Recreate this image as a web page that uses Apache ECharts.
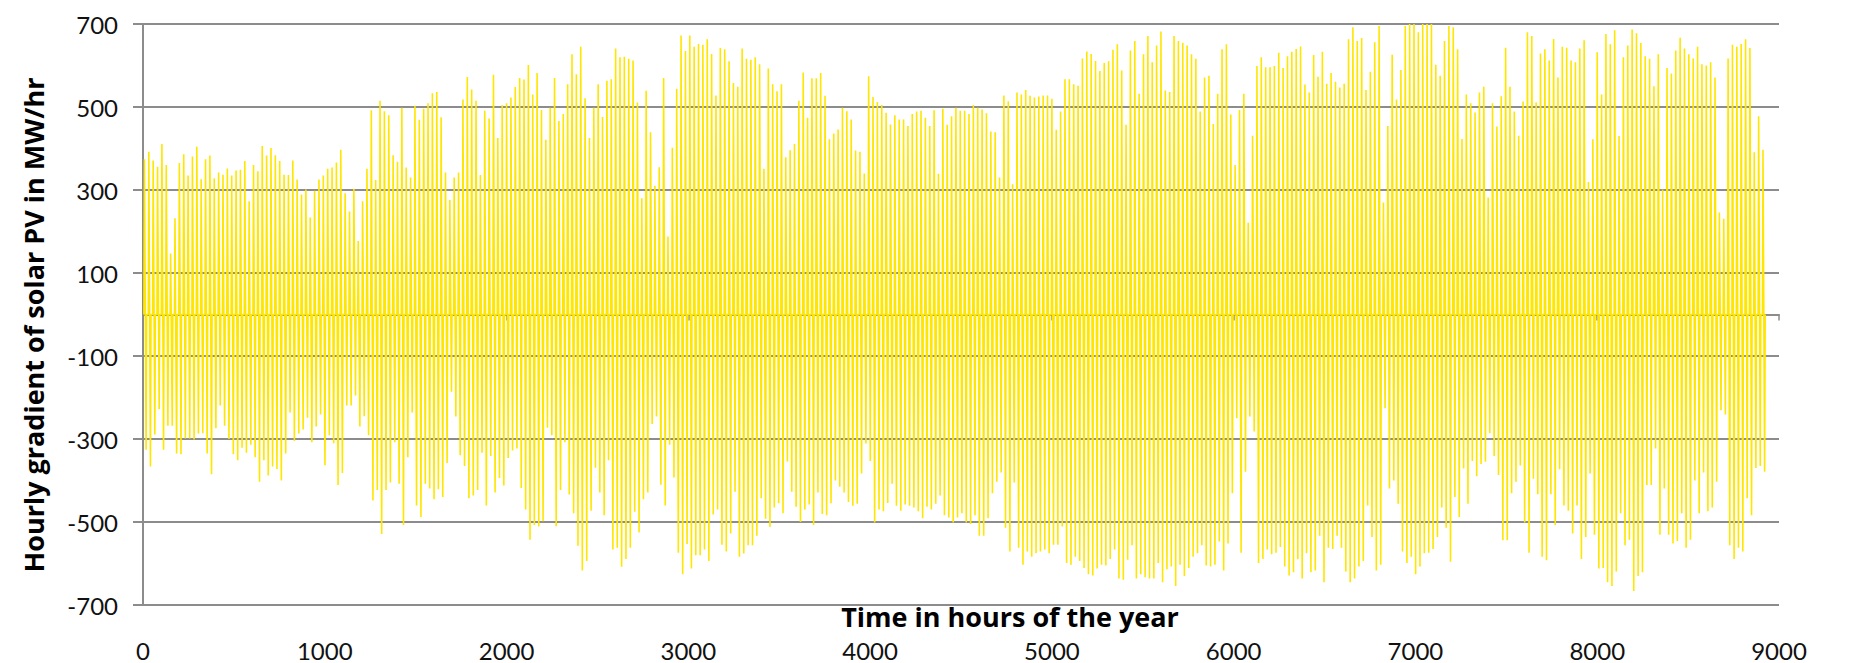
<!DOCTYPE html>
<html>
<head>
<meta charset="utf-8">
<script src="https://cdn.jsdelivr.net/npm/echarts/dist/echarts.min.js"></script>
<style>
  html, body { margin: 0; padding: 0; background: #ffffff; }
  #chart { width: 1852px; height: 663px; }
</style>
</head>
<body>
<div id="chart"></div>
<script>
// ---- Data ----
// Daily maximum (morning ramp) hourly gradient, MW/hr, one value per day
const dailyMax = [
  374,392,371,356,411,360,147,232,365,386,335,381,404,326,374,383,328,342,337,352,335,347,349,370,273,360,345,406,383,401,384,370,337,336,371,325,289,301,234,298,325,335,351,354,366,397,292,248,303,177,273,351,
  492,324,515,490,480,384,368,498,354,330,503,469,496,509,533,536,475,342,276,330,342,518,572,542,515,336,491,472,578,425,504,509,523,548,570,566,601,530,582,493,421,498,570,466,483,555,627,579,645,521,425,498,
  555,476,563,567,641,620,621,616,612,511,280,539,439,310,355,570,188,402,544,672,635,672,645,652,650,663,628,528,642,639,610,558,549,641,616,614,620,603,351,593,555,538,555,379,396,411,515,583,474,569,569,
  582,527,422,436,446,498,490,470,395,392,340,574,524,512,505,486,458,480,470,470,454,483,489,491,474,454,492,339,496,457,478,498,491,491,483,505,498,494,485,441,439,330,528,514,314,535,530,541,527,523,525,528,
  528,520,445,489,567,567,555,551,617,634,628,611,587,606,610,638,651,588,457,636,659,532,627,671,608,648,682,540,536,671,659,655,648,627,616,489,571,575,459,532,639,651,482,360,493,532,221,431,599,620,596,
  596,599,631,594,622,633,640,646,554,535,625,573,633,556,582,561,547,556,663,692,659,666,541,585,656,695,270,454,626,518,589,695,700,700,680,700,700,700,602,575,659,695,692,639,423,530,509,487,535,549,282,509,
  453,526,643,549,489,431,513,680,671,511,629,639,612,664,571,645,643,612,608,641,661,319,422,632,530,676,651,685,430,620,648,687,678,654,622,616,550,627,301,594,581,636,667,641,627,617,645,603,600,608,571,246,231,617,650,
  645,652,663,642,391,478,397
];
// Daily minimum (evening ramp) hourly gradient, MW/hr, one value per day
const dailyMin = [
  -326,-366,-289,-228,-326,-268,-268,-335,-337,-299,-299,-301,-287,-286,-335,-385,-274,-219,-268,-300,-337,-351,-321,-333,-314,-344,-403,-351,-388,-366,-372,-400,-335,-236,-305,-287,-277,-249,-308,-270,-241,-363,-291,-310,-411,-382,-219,-219,-195,-270,-245,-291,
  -448,-423,-529,-423,-405,-308,-408,-507,-344,-236,-460,-488,-408,-419,-445,-421,-440,-358,-186,-246,-339,-365,-443,-436,-423,-333,-460,-341,-429,-394,-412,-346,-328,-323,-418,-470,-543,-507,-511,-498,-273,-291,-510,-423,-308,-434,-479,-557,-617,-594,-473,-369,
  -429,-484,-351,-566,-562,-608,-589,-562,-475,-525,-445,-429,-264,-246,-410,-460,-314,-393,-574,-626,-553,-612,-580,-580,-566,-594,-482,-470,-555,-571,-528,-427,-584,-576,-556,-556,-533,-443,-492,-512,-465,-455,-479,-354,-427,-463,-500,-470,-458,-507,-429,
  -481,-484,-455,-400,-415,-429,-452,-461,-456,-383,-311,-353,-501,-470,-474,-454,-408,-461,-473,-458,-461,-465,-474,-491,-463,-470,-456,-436,-484,-489,-501,-489,-479,-501,-505,-484,-533,-533,-491,-431,-403,-381,-514,-571,-405,-562,-603,-571,-584,-575,-571,-566,
  -575,-555,-555,-511,-599,-603,-584,-594,-611,-626,-629,-612,-603,-605,-589,-566,-636,-639,-591,-556,-636,-626,-633,-636,-636,-599,-645,-614,-607,-654,-603,-630,-611,-584,-575,-556,-605,-607,-603,-547,-617,-552,-431,-250,-574,-379,-246,-282,-599,-589,-566,
  -578,-574,-560,-607,-629,-621,-590,-636,-575,-621,-617,-533,-645,-562,-565,-533,-562,-619,-645,-636,-607,-594,-460,-536,-617,-603,-226,-419,-400,-456,-571,-599,-584,-626,-607,-575,-574,-565,-536,-465,-514,-596,-440,-488,-371,-456,-353,-390,-360,-355,-286,-341,
  -387,-544,-544,-431,-403,-364,-501,-574,-396,-433,-584,-592,-433,-507,-373,-460,-473,-528,-460,-589,-536,-383,-531,-612,-611,-645,-654,-619,-479,-556,-543,-666,-630,-621,-411,-411,-323,-531,-419,-531,-552,-546,-479,-562,-543,-400,-479,-381,-474,-465,-403,-231,-241,-556,-589,
  -562,-571,-443,-484,-370,-365,-379
];
// Tick labels
const xTickLabels = [0, 1000, 2000, 3000, 4000, 5000, 6000, 7000, 8000, 9000];
const yTickLabels = [-700, -500, -300, -100, 100, 300, 500, 700];
const xTitle = 'Time in hours of the year';
const yTitle = 'Hourly gradient of solar PV in MW/hr';

// ---- Build hourly line: night zero, morning peak, evening trough, night zero ----
const HOURS_PER_DAY = 24;
const nDays = Math.min(dailyMax.length, dailyMin.length);
const points = [];
for (let d = 0; d < nDays; d++) {
  const h = d * HOURS_PER_DAY;
  points.push([h + 5, 0], [h + 8, dailyMax[d]], [h + 17, dailyMin[d]], [h + 20, 0]);
}

const gridColor = '#8c8c8c';
const tickFont = 'Lato, "Open Sans", sans-serif';
const titleFont = 'bold 27px "Open Sans", Lato, sans-serif';

const chart = echarts.init(document.getElementById('chart'), null, { renderer: 'svg' });
chart.setOption({
  animation: false,
  backgroundColor: '#ffffff',
  grid: { left: 143, right: 73, top: 24, bottom: 58, containLabel: false },
  xAxis: [
    {
      type: 'value',
      min: xTickLabels[0],
      max: xTickLabels[xTickLabels.length - 1],
      interval: xTickLabels[1] - xTickLabels[0],
      position: 'bottom',
      axisLine: { show: false, onZero: false },
      axisTick: { show: false },
      splitLine: { show: false },
      axisLabel: { margin: 33, fontSize: 24, fontFamily: tickFont, color: '#111', formatter: v => String(v) }
    },
    {
      type: 'value',
      min: xTickLabels[0],
      max: xTickLabels[xTickLabels.length - 1],
      interval: xTickLabels[1] - xTickLabels[0],
      position: 'bottom',
      axisLine: { show: true, onZero: true, lineStyle: { color: gridColor, width: 2 } },
      axisTick: { show: true, length: 6, lineStyle: { color: gridColor, width: 1.5 } },
      splitLine: { show: false },
      axisLabel: { show: false }
    }
  ],
  yAxis: {
    type: 'value',
    min: yTickLabels[0],
    max: yTickLabels[yTickLabels.length - 1],
    interval: yTickLabels[1] - yTickLabels[0],
    axisLine: { show: true, lineStyle: { color: gridColor, width: 2 } },
    axisTick: { show: true, length: 10, lineStyle: { color: gridColor, width: 2 } },
    splitLine: { show: true, lineStyle: { color: gridColor, width: 2 } },
    axisLabel: { margin: 25, fontSize: 24, fontFamily: tickFont, color: '#111', formatter: v => String(v) }
  },
  graphic: [
    {
      type: 'text', x: 1010, y: 616,
      style: { text: xTitle, font: titleFont, fill: '#000', textAlign: 'center', textVerticalAlign: 'middle' }
    },
    {
      type: 'text', x: 33, y: 325, rotation: Math.PI / 2,
      style: { text: yTitle, font: titleFont, fill: '#000', textAlign: 'center', textVerticalAlign: 'middle' }
    }
  ],
  series: [
    {
      type: 'line',
      xAxisIndex: 0,
      yAxisIndex: 0,
      data: points,
      showSymbol: false,
      symbol: 'none',
      silent: true,
      sampling: null,
      lineStyle: { color: '#FFE600', width: 1.6 },
      z: 3
    }
  ]
});
</script>
</body>
</html>
